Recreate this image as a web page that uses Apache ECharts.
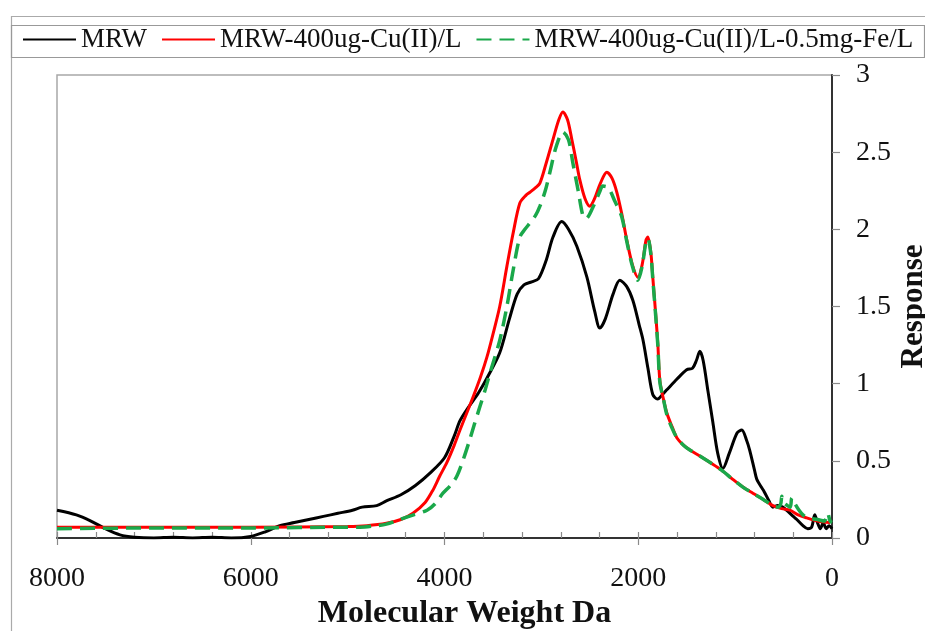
<!DOCTYPE html>
<html>
<head>
<meta charset="utf-8">
<script src="https://cdn.jsdelivr.net/npm/echarts@6/dist/echarts.min.js"></script>
<style>
  html, body { margin: 0; padding: 0; background: #fff; overflow: hidden; }
  #chart { width: 925px; height: 631px; }
</style>
</head>
<body>
<div id="chart"></div>
<script>
// Size-exclusion profiles: response vs molecular weight (Da)
const seriesNames = ['MRW', 'MRW-400ug-Cu(II)/L', 'MRW-400ug-Cu(II)/L-0.5mg-Fe/L'];

const mrwMW = [8000, 7800, 7650, 7500, 7350, 7200, 7000, 6800, 6600, 6400, 6200, 6000, 5850, 5700, 5550, 5400, 5250, 5100, 4950, 4850, 4700, 4600, 4450, 4300, 4150, 4000, 3900, 3840, 3750, 3650, 3550, 3430, 3330, 3250, 3180, 3100, 3030, 2950, 2880, 2790, 2720, 2634, 2530, 2450, 2396, 2340, 2260, 2190, 2120, 2056, 1990, 1950, 1900, 1850, 1800, 1750, 1705, 1600, 1500, 1440, 1400, 1364, 1330, 1280, 1230, 1180, 1127, 1060, 980, 931, 880, 850, 800, 776, 730, 700, 650, 610, 560, 508, 450, 400, 363, 300, 250, 210, 178, 150, 120, 90, 60, 30, 0];
const mrwResp = [0.18, 0.15, 0.11, 0.06, 0.02, 0.005, 0.0, 0.005, 0.0, 0.005, 0.0, 0.01, 0.04, 0.08, 0.10, 0.12, 0.14, 0.16, 0.18, 0.20, 0.21, 0.24, 0.28, 0.34, 0.42, 0.52, 0.66, 0.76, 0.85, 0.94, 1.05, 1.20, 1.42, 1.58, 1.64, 1.66, 1.68, 1.80, 1.95, 2.05, 2.00, 1.89, 1.69, 1.47, 1.36, 1.42, 1.58, 1.67, 1.63, 1.54, 1.38, 1.28, 1.10, 0.93, 0.90, 0.93, 0.96, 1.03, 1.09, 1.10, 1.15, 1.21, 1.15, 0.95, 0.75, 0.55, 0.45, 0.55, 0.68, 0.70, 0.63, 0.57, 0.44, 0.38, 0.33, 0.30, 0.24, 0.20, 0.21, 0.20, 0.17, 0.14, 0.12, 0.08, 0.06, 0.07, 0.15, 0.10, 0.06, 0.10, 0.06, 0.08, 0.06];

const cuMW = [8000, 7000, 6000, 5000, 4800, 4600, 4450, 4326, 4200, 4120, 4050, 3975, 3900, 3840, 3770, 3707, 3630, 3563, 3500, 3430, 3356, 3290, 3222, 3160, 3119, 3060, 3015, 2950, 2881, 2820, 2778, 2730, 2685, 2640, 2603, 2550, 2500, 2450, 2390, 2324, 2270, 2221, 2170, 2118, 2060, 2004, 1960, 1920, 1901, 1870, 1850, 1820, 1798, 1777, 1740, 1705, 1650, 1602, 1530, 1467, 1360, 1260, 1140, 1024, 920, 817, 710, 610, 520, 435, 350, 260, 150, 20];
const cuResp = [0.07, 0.07, 0.07, 0.075, 0.08, 0.095, 0.12, 0.16, 0.23, 0.31, 0.40, 0.49, 0.60, 0.70, 0.81, 0.91, 1.04, 1.17, 1.32, 1.50, 1.76, 1.98, 2.17, 2.22, 2.24, 2.27, 2.30, 2.43, 2.58, 2.71, 2.76, 2.71, 2.58, 2.44, 2.32, 2.20, 2.15, 2.20, 2.30, 2.37, 2.33, 2.24, 2.10, 1.93, 1.77, 1.69, 1.77, 1.93, 1.95, 1.85, 1.69, 1.45, 1.26, 1.02, 0.90, 0.81, 0.72, 0.65, 0.60, 0.57, 0.53, 0.49, 0.44, 0.38, 0.33, 0.29, 0.25, 0.21, 0.19, 0.18, 0.15, 0.13, 0.11, 0.10];

const cuFeMW = [8000, 7000, 6000, 5000, 4873, 4700, 4600, 4460, 4320, 4180, 4100, 4016, 3940, 3873, 3800, 3738, 3690, 3635, 3580, 3530, 3430, 3356, 3290, 3222, 3170, 3119, 3060, 3015, 2960, 2912, 2850, 2778, 2720, 2675, 2620, 2572, 2540, 2470, 2400, 2365, 2310, 2240, 2170, 2118, 2060, 2004, 1960, 1920, 1901, 1870, 1850, 1820, 1798, 1777, 1740, 1705, 1650, 1602, 1530, 1467, 1360, 1260, 1140, 1024, 920, 817, 710, 610, 560, 530, 518, 500, 460, 430, 415, 380, 340, 300, 250, 150, 80, 45, 20, 0];
const cuFeResp = [0.06, 0.065, 0.065, 0.07, 0.07, 0.08, 0.09, 0.12, 0.15, 0.18, 0.22, 0.29, 0.34, 0.40, 0.52, 0.64, 0.74, 0.85, 0.96, 1.07, 1.28, 1.50, 1.74, 1.95, 2.00, 2.04, 2.09, 2.15, 2.25, 2.37, 2.53, 2.63, 2.58, 2.43, 2.25, 2.09, 2.07, 2.14, 2.24, 2.28, 2.27, 2.18, 2.08, 1.92, 1.76, 1.67, 1.76, 1.92, 1.94, 1.84, 1.68, 1.44, 1.25, 1.01, 0.90, 0.80, 0.71, 0.65, 0.60, 0.57, 0.53, 0.49, 0.44, 0.38, 0.33, 0.29, 0.25, 0.21, 0.20, 0.22, 0.27, 0.23, 0.21, 0.20, 0.26, 0.22, 0.18, 0.15, 0.13, 0.12, 0.11, 0.16, 0.11, 0.10];

const xTicks = [8000, 6000, 4000, 2000, 0];
const yTicks = [0, 0.5, 1, 1.5, 2, 2.5, 3];

const zip = (xs, ys) => xs.map((x, i) => [x, ys[i]]);

const serif = "'Liberation Serif', 'Times New Roman', serif";
const ink = '#111';
const tickGrey = '#8a8a8a';

const chart = echarts.init(document.getElementById('chart'), null, { renderer: 'canvas' });

chart.setOption({
  animation: false,
  backgroundColor: '#fff',
  textStyle: { fontFamily: serif },
  graphic: [
    // outer chart frame
    { type: 'rect', left: 9, top: 14, shape: { width: 1000, height: 700 },
      style: { fill: 'none', stroke: '#aaa', lineWidth: 1.2 }, silent: true, z: -1 },
    // legend box
    { type: 'rect', left: 9, top: 23, shape: { width: 913, height: 32 },
      style: { fill: 'none', stroke: '#999', lineWidth: 1.2 }, silent: true, z: -1 }
  ],
  legend: {
    data: seriesNames,
    left: 22,
    top: 26,
    padding: 0,
    itemWidth: 53,
    itemHeight: 14,
    itemGap: 14,
    itemStyle: { opacity: 0 },
    textStyle: { fontFamily: serif, fontSize: 27, color: ink }
  },
  grid: {
    left: 57, right: 93, top: 75, bottom: 93,
    show: true, borderColor: '#a8a8a8', borderWidth: 1.5,
    containLabel: false, outerBoundsMode: 'none'
  },
  xAxis: [
    {
      type: 'value', inverse: true, min: 0, max: 8000, interval: 400,
      position: 'bottom',
      axisLine: { show: true, onZero: false, lineStyle: { color: '#333', width: 2 } },
      axisTick: { show: true, inside: true, length: 6, lineStyle: { color: tickGrey, width: 1.2 } },
      axisLabel: {
        fontFamily: serif, fontSize: 28, color: ink, margin: 27,
        formatter: v => (xTicks.indexOf(v) >= 0 ? String(v) : '')
      },
      splitLine: { show: false },
      name: 'Molecular Weight Da',
      nameLocation: 'middle',
      nameGap: 60,
      nameMoveOverlap: false,
      nameTextStyle: { fontFamily: serif, fontSize: 32, fontWeight: 'bold', color: ink, padding: [0, 0, 0, 40] }
    },
    {
      type: 'value', inverse: true, min: 0, max: 8000, interval: 2000,
      position: 'bottom',
      axisLine: { show: false },
      axisTick: { show: true, inside: false, length: 7, lineStyle: { color: tickGrey, width: 1.2 } },
      axisLabel: { show: false },
      splitLine: { show: false }
    }
  ],
  yAxis: {
    type: 'value', position: 'right', min: 0, max: 3, interval: 0.5,
    axisLine: { show: true, onZero: false, lineStyle: { color: '#333', width: 2 } },
    axisTick: { show: true, inside: false, length: 8, lineStyle: { color: tickGrey, width: 1.2 } },
    axisLabel: {
      fontFamily: serif, fontSize: 28, color: ink, margin: 24, align: 'left',
      formatter: v => (yTicks.indexOf(v) >= 0 ? String(v) : '')
    },
    splitLine: { show: false },
    name: 'Response',
    nameLocation: 'middle',
    nameRotate: 90,
    nameGap: 66,
    nameMoveOverlap: false,
    nameTextStyle: { fontFamily: serif, fontSize: 31, fontWeight: 'bold', color: ink }
  },
  series: [
    {
      name: seriesNames[0], type: 'line', data: zip(mrwMW, mrwResp),
      symbol: 'none', smooth: 0.3, color: '#000',
      lineStyle: { color: '#000', width: 3 }
    },
    {
      name: seriesNames[1], type: 'line', data: zip(cuMW, cuResp),
      symbol: 'none', smooth: 0.3, color: '#ff0000',
      lineStyle: { color: '#ff0000', width: 3 }
    },
    {
      name: seriesNames[2], type: 'line', data: zip(cuFeMW, cuFeResp),
      symbol: 'none', smooth: 0.3, color: '#1aa84a',
      lineStyle: { color: '#1aa84a', width: 3.5, type: [15, 8] }
    }
  ]
});
</script>
</body>
</html>
